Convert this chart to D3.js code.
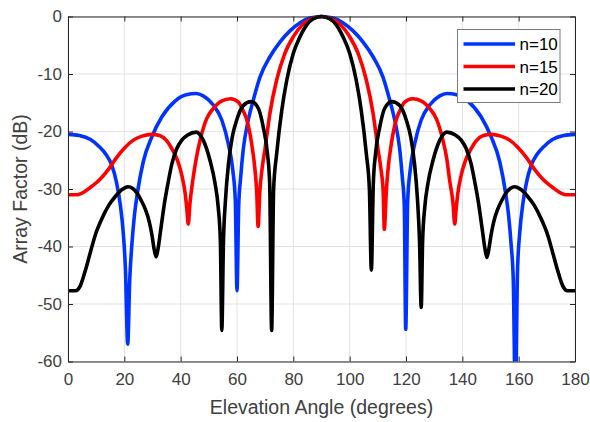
<!DOCTYPE html>
<html><head><meta charset="utf-8">
<script src="https://cdn.jsdelivr.net/npm/d3@7"></script>
<style>body{margin:0;background:#fff;}svg{display:block;font-family:"Liberation Sans",Arial,sans-serif;}</style>
</head><body>
<svg id="c" width="590" height="422"></svg>
<script>
// ---- data ----
const xTicks = [0,20,40,60,80,100,120,140,160,180];
const yTicks = [0,-10,-20,-30,-40,-50,-60];
const seriesNames = ["n=10","n=15","n=20"];
const seriesColors = ["#0033ff","#ff0000","#000000"];

const n10Angles = [0,4,8,11,13.5,15.5,17.2,18.5,19.6,20.4,21.2,21.9,22.7,23.6,24.7,26.7,29.8,33.4,38,42,45.5,48,51.6,54.6,56.9,58.5,59.4,60.0,60.6,61.3,62.2,64,65.8,68.2,71.7,75.3,78.8,82.4,85.9,90,
  94.1,97.6,101.2,104.7,108.3,111.8,114.2,116,117.8,118.7,119.4,119.9,120.6,121.5,123.1,125.4,128.4,132,134.5,138,142,146.6,150.2,153.3,155.3,156.4,157.3,158.1,158.8,159.6,160.4,161.5,162.8,164.5,166.5,169,172,176,180];
const n10Values = [-20.5,-20.7,-21.4,-22.6,-24.0,-25.8,-28.8,-32.5,-37.5,-44,-57,-46,-39.5,-34.5,-30.5,-25.3,-20.9,-17.4,-14.7,-13.6,-13.4,-13.8,-15.4,-18.0,-22.1,-26.7,-32,-47.7,-33,-28,-23.2,-18.0,-14.5,-10.5,-7.0,-4.4,-2.5,-1.07,-0.26,0,
  -0.26,-1.07,-2.5,-4.4,-7.0,-10.5,-14.5,-18.0,-23.2,-28,-33,-54.4,-32,-26.7,-22.1,-18.0,-15.4,-13.8,-13.4,-13.6,-14.7,-17.4,-20.9,-25.3,-30.5,-34.5,-39.5,-46,-66,-44,-37.5,-32.5,-28.8,-25.8,-24.0,-22.6,-21.4,-20.7,-20.5];

const n15Angles = [0,3,5,8,11.4,14.5,17.3,20,23.2,26.3,29.7,32.5,35,37,39,40.5,41.6,42.2,42.7,43.3,44.3,45.5,47,49.2,51.6,54.5,57.7,60.5,62,63.5,65.2,66.4,67.0,67.5,68.1,68.9,69.9,71.7,74.1,77,80,83.5,87.1,90,
  92.9,96.5,100,103,105.9,108.3,110.1,111.1,111.9,112.3,113.0,113.6,114.8,116.5,118,119.5,122.3,125.5,128.4,130.8,133,134.5,135.5,136.7,137.3,137.8,138.4,139.5,141,143,145,147.5,150.3,153.7,156.8,160,162.7,165.5,168.6,172,175,177,180];
const n15Values = [-31.0,-31.0,-30.7,-29.7,-28.3,-26.5,-24.5,-22.9,-21.5,-20.8,-20.5,-20.7,-21.6,-23.1,-25.2,-27.8,-30.8,-33.5,-36.1,-32.5,-28.5,-24.8,-21.3,-17.8,-16.0,-14.7,-14.3,-14.9,-16.2,-18.0,-22.1,-26.7,-30.5,-36.5,-30.5,-26.5,-23.2,-16.8,-11.0,-6.4,-3.5,-1.3,-0.3,0,
  -0.3,-1.3,-3.5,-6.4,-11.0,-16.8,-23.2,-26.5,-30.5,-37.0,-30.5,-26.7,-22.1,-18.0,-16.2,-14.9,-14.3,-14.7,-16.0,-17.8,-21.3,-24.8,-28.5,-32.5,-36.1,-33.5,-30.8,-27.8,-25.2,-23.1,-21.6,-20.7,-20.5,-20.8,-21.5,-22.9,-24.5,-26.5,-28.3,-29.7,-30.7,-31.0,-31.0];

const n20Angles = [0,2.6,4.4,6.2,8.0,9.7,12.1,14.4,16.8,19.2,21.3,23,24.5,26,27.5,28.9,29.8,30.6,31.3,32.0,32.8,33.5,34.4,35.5,36.9,38.6,40.4,42.5,45.5,48,50.4,52.2,53.3,54.1,54.6,55.2,55.9,57.0,58.3,59.9,62.2,65,67.6,69.3,70.8,71.6,72.3,73.0,74.1,75.9,77.7,80,82.4,84.7,87.1,90,
  92.9,95.3,97.6,100,102.3,104.1,105.9,107.0,107.7,108.4,109.2,110.7,112.4,115,117.8,120.1,121.7,123,124.1,124.8,125.4,125.9,126.7,127.8,129.6,132,134.5,137.5,139.6,141.4,143.1,144.5,145.6,146.5,147.2,148.0,148.7,149.4,150.2,151.1,152.5,154,155.5,157,158.7,160.8,163.2,165.6,167.9,170.3,172,173.8,175.6,177.4,180];
const n20Values = [-47.7,-47.7,-46.8,-44.1,-40.9,-38.0,-35.1,-32.9,-31.3,-30.1,-29.6,-29.9,-30.7,-32,-33.6,-35.8,-38.0,-40.5,-41.8,-40.3,-37.5,-35.0,-32.0,-29.0,-25.6,-23.0,-21.5,-20.6,-20.1,-21.5,-25.0,-29.0,-33,-39,-54.6,-39,-32,-25.5,-21.0,-18.0,-15.5,-14.8,-16.0,-19.2,-23.8,-29,-54.6,-30,-23.8,-16.3,-11.0,-6.4,-3.5,-1.5,-0.4,0,
  -0.4,-1.5,-3.5,-6.4,-11.0,-16.3,-23.8,-30,-44.1,-29,-23.8,-19.2,-16.0,-14.8,-15.5,-18.0,-21.0,-25.5,-32,-39,-50.6,-39,-33,-29.0,-25.0,-21.5,-20.1,-20.6,-21.5,-23.0,-25.6,-29.0,-32.0,-35.0,-37.5,-40.3,-41.9,-40.5,-38.0,-35.8,-33.6,-32,-30.7,-29.9,-29.6,-30.1,-31.3,-32.9,-35.1,-38.0,-40.9,-44.1,-46.8,-47.7,-47.7];

// ---- drawing ----
const svg = d3.select("#c");
const W = 590, H = 422;
const m = {l:68, r:15, t:16.5, b:60.5};
const x = d3.scaleLinear().domain([0,180]).range([m.l, W-m.r]);
const y = d3.scaleLinear().domain([-60,0]).range([H-m.b, m.t]);
const axisColor = "#262626", textColor = "#404040";
const FONT = "'Liberation Sans',Arial,sans-serif";

svg.append("rect").attr("width",W).attr("height",H).attr("fill","#fff");

// grid
const g = svg.append("g");
g.selectAll(".gx").data(xTicks).join("line")
  .attr("x1",d=>x(d)).attr("x2",d=>x(d)).attr("y1",y(-60)).attr("y2",y(0))
  .attr("stroke","#e3e3e3").attr("stroke-width",1);
g.selectAll(".gy").data(yTicks).join("line")
  .attr("y1",d=>y(d)).attr("y2",d=>y(d)).attr("x1",x(0)).attr("x2",x(180))
  .attr("stroke","#e3e3e3").attr("stroke-width",1);

// clip
svg.append("clipPath").attr("id","clip").append("rect")
  .attr("x",x(0)).attr("y",y(0)-3).attr("width",x(180)-x(0)).attr("height",y(-60)-y(0)+3);

const series = [
  {angles:n10Angles, values:n10Values},
  {angles:n15Angles, values:n15Values},
  {angles:n20Angles, values:n20Values}
];
const line = d3.line().x(d=>x(d[0])).y(d=>y(d[1])).curve(d3.curveMonotoneX);
const lg = svg.append("g").attr("clip-path","url(#clip)");
series.forEach((s,i)=>{
  const pts = s.angles.map((a,j)=>[a,s.values[j]]);
  lg.append("path").attr("d",line(pts)).attr("fill","none")
    .attr("stroke",seriesColors[i]).attr("stroke-width",3.6)
    .attr("stroke-linejoin","round").attr("stroke-linecap","butt");
});

// axes (MATLAB-like box with inward ticks)
const fmt = d => String(d);
const xb = d3.axisBottom(x).tickValues(xTicks).tickSizeInner(-5).tickSizeOuter(0).tickPadding(11).tickFormat(fmt);
const yl = d3.axisLeft(y).tickValues(yTicks).tickSizeInner(-5).tickSizeOuter(0).tickPadding(6).tickFormat(fmt);
const xt = d3.axisTop(x).tickValues(xTicks).tickSizeInner(-5).tickSizeOuter(0).tickFormat("");
const yr = d3.axisRight(y).tickValues(yTicks).tickSizeInner(-5).tickSizeOuter(0).tickFormat("");

function style(sel){
  sel.selectAll("path.domain").attr("stroke",axisColor).attr("stroke-width",1);
  sel.selectAll(".tick line").attr("stroke",axisColor);
  sel.selectAll(".tick text").attr("fill",textColor).style("font-size","17px")
    .style("font-family",FONT);
}
svg.append("g").attr("transform",`translate(0,${y(-60)})`).call(xb).call(style);
svg.append("g").attr("transform",`translate(${x(0)},0)`).call(yl).call(style);
svg.append("g").attr("transform",`translate(0,${y(0)})`).call(xt).call(style);
svg.append("g").attr("transform",`translate(${x(180)},0)`).call(yr).call(style);

// axis labels
svg.append("text").attr("x",(x(0)+x(180))/2).attr("y",414).attr("text-anchor","middle")
  .attr("fill",textColor).style("font-size","19.5px").style("font-family",FONT).text("Elevation Angle (degrees)");
svg.append("text").attr("transform",`translate(27,${(y(0)+y(-60))/2}) rotate(-90)`)
  .attr("text-anchor","middle").attr("fill",textColor).style("font-size","19.5px").style("font-family",FONT).text("Array Factor (dB)");

// legend
const lgX = 457.5, lgY = 29.5, lgW = 102.5, lgH = 73;
const leg = svg.append("g");
leg.append("rect").attr("x",lgX).attr("y",lgY).attr("width",lgW).attr("height",lgH)
  .attr("fill","#fff").attr("stroke","#7a7a7a").attr("stroke-width",1);
seriesNames.forEach((nm,i)=>{
  const yy = lgY + 14.5 + i*22.5;
  leg.append("line").attr("x1",lgX+6).attr("x2",lgX+57.5).attr("y1",yy).attr("y2",yy)
    .attr("stroke",seriesColors[i]).attr("stroke-width",3.6);
  leg.append("text").attr("x",lgX+62).attr("y",yy+6).attr("fill","#000")
    .style("font-size","17px").style("font-family",FONT).text(nm);
});
</script>
</body></html>
